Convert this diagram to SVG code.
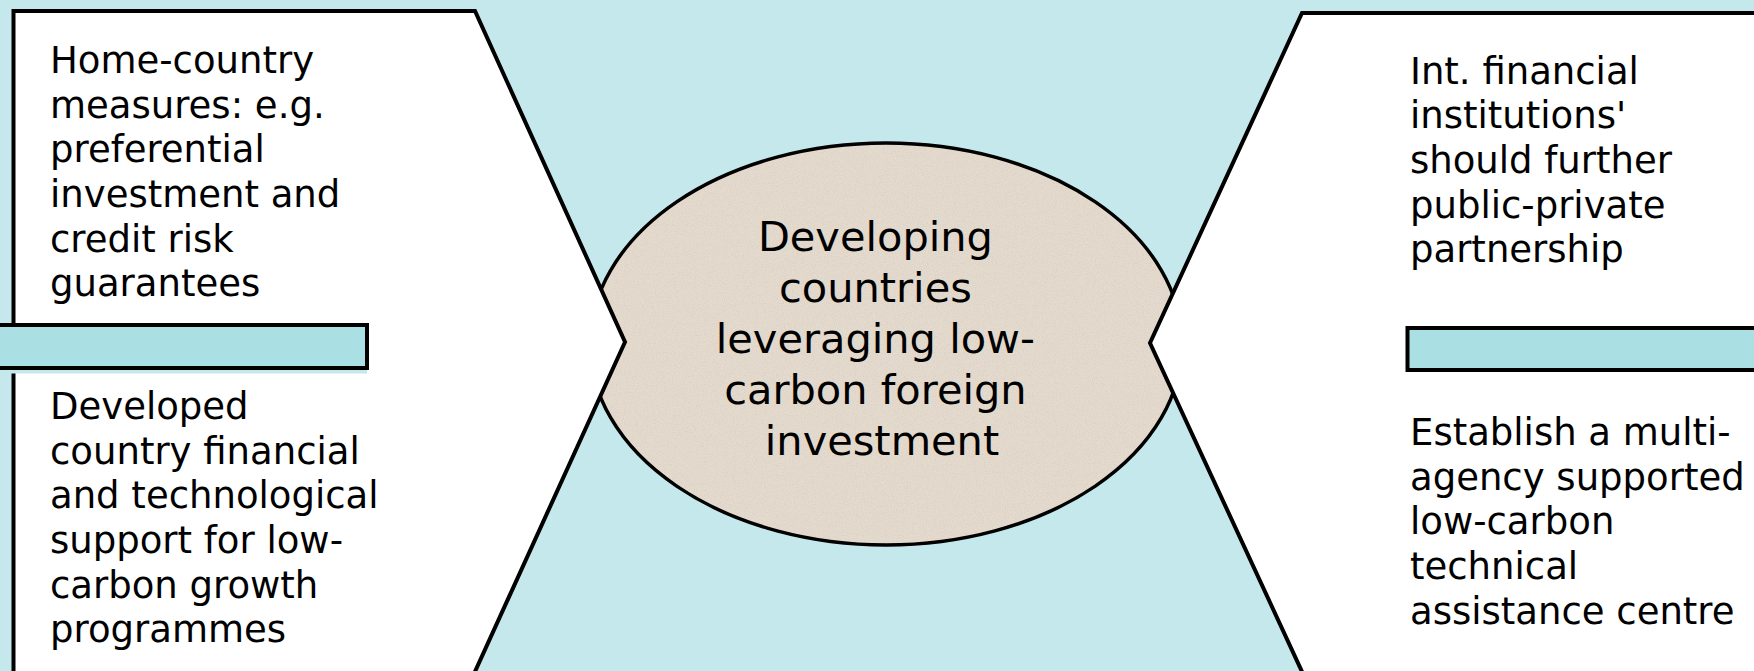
<svg xmlns="http://www.w3.org/2000/svg" width="1754" height="671" viewBox="0 0 1754 671">
  <style>
    .bg { fill: #c5e8ec; }
    .panel { fill: #ffffff; stroke: #000000; stroke-width: 4; stroke-linejoin: miter; }
    .bar { fill: #aadfe3; stroke: #000000; stroke-width: 4; }
    .hub { fill: #e4dacd; stroke: #000000; stroke-width: 3.5; }
    .side { font-family: "DejaVu Sans", Verdana, sans-serif; font-size: 37px; fill: #000000; }
    .core { font-family: "DejaVu Sans", Verdana, sans-serif; font-size: 41.5px; fill: #000000; text-anchor: middle; }
  </style>
  <defs>
    <!-- fine speckle for the paper-like hub fill -->
    <filter id="grain" x="0" y="0" width="100%" height="100%">
      <feTurbulence type="fractalNoise" baseFrequency="0.9" numOctaves="2" seed="7" result="noise"/>
      <feColorMatrix in="noise" type="matrix"
        values="0 0 0 0 0.55
                0 0 0 0 0.50
                0 0 0 0 0.44
                0 0 0 -2.2 1.25" result="speck"/>
      <feComposite in="speck" in2="SourceGraphic" operator="in"/>
    </filter>
  </defs>

  <!-- backdrop -->
  <rect class="bg" x="0" y="0" width="1754" height="671"/>

  <!-- central hub, drawn first so the side panels clip its flanks -->
  <g id="hub">
    <ellipse class="hub" cx="886" cy="344" rx="296" ry="201"/>
    <ellipse cx="886" cy="344" rx="294" ry="199" fill="#000" filter="url(#grain)" opacity="0.35"/>
  </g>

  <!-- left panel: two measures separated by a bar -->
  <g id="left-panel">
    <polygon class="panel" points="13.5,11 475,11 625,342 473,676 13.5,676"/>
    <rect class="bar" x="-6" y="325" width="373" height="43"/>
    <rect class="bg" x="0" y="370" width="367" height="3.5"/>
  </g>

  <!-- right panel: two measures separated by a bar -->
  <g id="right-panel">
    <polygon class="panel" points="1302,13 1760,13 1760,676 1304,676 1150,343"/>
    <rect class="bar" x="1407.5" y="328" width="360" height="42"/>
  </g>

  <g id="connectors"></g>

  <g id="home-country-measures">
    <text class="side">
      <tspan x="50" y="73">Home-country</tspan>
      <tspan x="50" y="118">measures: e.g.</tspan>
      <tspan x="50" y="162">preferential</tspan>
      <tspan x="50" y="207">investment and</tspan>
      <tspan x="50" y="252">credit risk</tspan>
      <tspan x="50" y="296">guarantees</tspan>
    </text>
  </g>

  <g id="developed-country-support">
    <text class="side">
      <tspan x="50" y="419">Developed</tspan>
      <tspan x="50" y="464">country financial</tspan>
      <tspan x="50" y="508">and technological</tspan>
      <tspan x="50" y="553">support for low-</tspan>
      <tspan x="50" y="598">carbon growth</tspan>
      <tspan x="50" y="642">programmes</tspan>
    </text>
  </g>

  <g id="financial-institutions">
    <text class="side">
      <tspan x="1410" y="84">Int. financial</tspan>
      <tspan x="1410" y="128">institutions'</tspan>
      <tspan x="1410" y="173">should further</tspan>
      <tspan x="1410" y="218">public-private</tspan>
      <tspan x="1410" y="262">partnership</tspan>
    </text>
  </g>

  <g id="assistance-centre">
    <text class="side">
      <tspan x="1410" y="445">Establish a multi-</tspan>
      <tspan x="1410" y="490">agency supported</tspan>
      <tspan x="1410" y="534">low-carbon</tspan>
      <tspan x="1410" y="579">technical</tspan>
      <tspan x="1410" y="624">assistance centre</tspan>
    </text>
  </g>

  <g id="hub-label">
    <text class="core">
      <tspan x="882" y="251">Developing</tspan>
      <tspan x="882" y="302">countries</tspan>
      <tspan x="882" y="353">leveraging low-</tspan>
      <tspan x="882" y="404">carbon foreign</tspan>
      <tspan x="882" y="455">investment</tspan>
    </text>
  </g>
</svg>
